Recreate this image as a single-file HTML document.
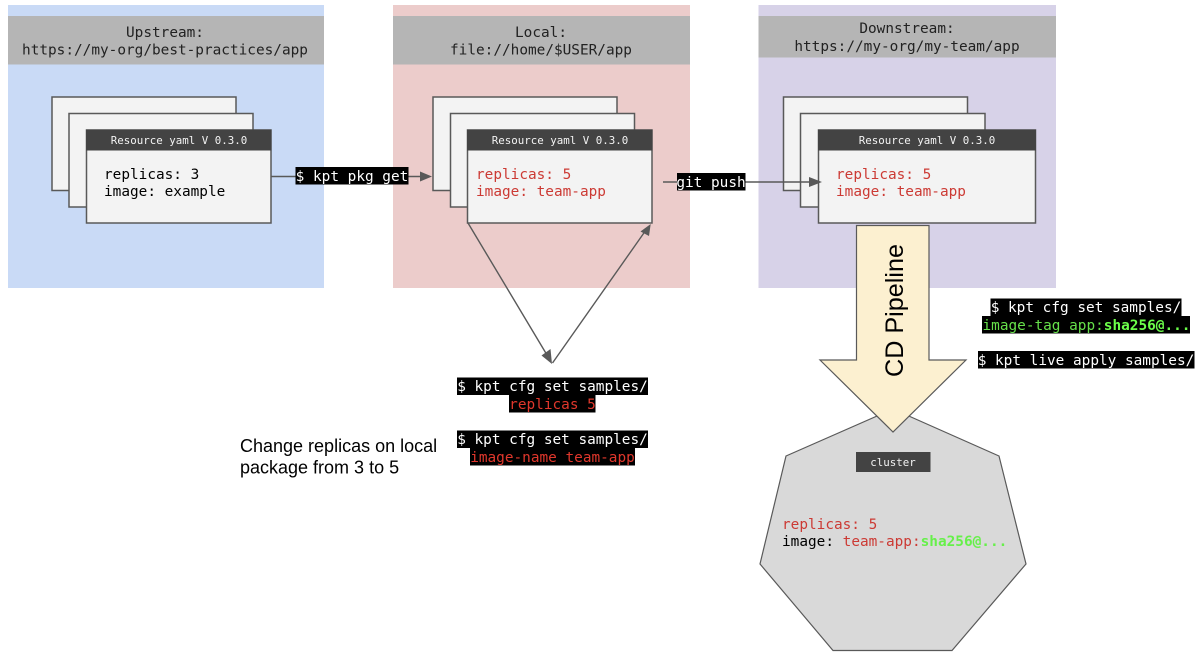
<!DOCTYPE html>
<html>
<head>
<meta charset="utf-8">
<style>
html,body{margin:0;padding:0;background:#fff;width:1200px;height:662px;overflow:hidden}
svg{display:block;filter:blur(0.3px)}
text{font-family:"DejaVu Sans Mono","Liberation Mono",monospace;font-size:14.4px;fill:#000;white-space:pre}
.t{font-size:10.8px;fill:#f3f3f3;text-anchor:middle}
.hd{fill:#222;text-anchor:middle}
.r{fill:#cc3a34}
.w{fill:#fff;text-anchor:middle}
.rr{fill:#e0372c;text-anchor:middle}
.s{font-family:"Liberation Sans",sans-serif;fill:#000}
.c{fill:#f3f3f3;stroke:#595959;stroke-width:1.5}
.l{stroke:#595959;stroke-width:1.4;fill:none}
.a{fill:#595959;stroke:none}
</style>
</head>
<body>
<svg width="1200" height="662" viewBox="0 0 1200 662" xmlns="http://www.w3.org/2000/svg">
<!-- panels -->
<rect x="8" y="5" width="316" height="283" fill="#c9daf6"/>
<rect x="393" y="5" width="297" height="283" fill="#eccccb"/>
<rect x="758.5" y="5" width="297.5" height="283" fill="#d7d2e8"/>
<rect x="8" y="16" width="316" height="48.5" fill="#b5b5b5"/>
<rect x="393" y="16" width="297" height="48.5" fill="#b5b5b5"/>
<rect x="758.5" y="16" width="297.5" height="41.5" fill="#b5b5b5"/>
<text class="hd" x="165" y="37">Upstream:</text>
<text class="hd" x="165" y="54.5">https://my-org/best-practices/app</text>
<text class="hd" x="541" y="37">Local:</text>
<text class="hd" x="541" y="54.5">file://home/$USER/app</text>
<text class="hd" x="907" y="33">Downstream:</text>
<text class="hd" x="907" y="51">https://my-org/my-team/app</text>

<!-- upstream cards -->
<rect class="c" x="52" y="97" width="184" height="93.5"/>
<rect class="c" x="69" y="113.5" width="184" height="93.5"/>
<rect class="c" x="86.5" y="130" width="184.5" height="93"/>
<rect x="86" y="129.5" width="185.5" height="21" fill="#434343"/>
<text class="t" x="179" y="144">Resource yaml V 0.3.0</text>
<text x="104" y="179">replicas: 3</text>
<text x="104" y="196">image: example</text>

<!-- local cards -->
<rect class="c" x="433" y="97" width="184" height="93.5"/>
<rect class="c" x="450.5" y="113.5" width="184" height="93.5"/>
<rect class="c" x="467.5" y="130" width="184.5" height="93"/>
<rect x="467" y="129.5" width="185.5" height="21" fill="#434343"/>
<text class="t" x="560" y="144">Resource yaml V 0.3.0</text>
<text class="r" x="476" y="179">replicas: 5</text>
<text class="r" x="476" y="196">image: team-app</text>

<!-- downstream cards -->
<rect class="c" x="783.5" y="97" width="184" height="93.5"/>
<rect class="c" x="800.5" y="113.5" width="184.5" height="93.5"/>
<rect class="c" x="818.5" y="130" width="217" height="93"/>
<rect x="818" y="129.5" width="218" height="21" fill="#434343"/>
<text class="t" x="927" y="144">Resource yaml V 0.3.0</text>
<text class="r" x="836" y="179">replicas: 5</text>
<text class="r" x="836" y="196">image: team-app</text>

<!-- connectors -->
<line class="l" x1="271" y1="176.5" x2="422" y2="176.5"/>
<polygon class="a" points="420,171.5 432,176.5 420,181.5"/>
<line class="l" x1="663" y1="182" x2="811" y2="182"/>
<polygon class="a" points="809,177 822,182 809,187"/>
<line class="l" x1="468" y1="223" x2="550" y2="360"/>
<polygon class="a" points="541.5,355.5 550.5,349 552,364"/>
<line class="l" x1="552.5" y1="363" x2="646" y2="230"/>
<polygon class="a" points="640.5,231.5 649,236 650.7,224"/>

<!-- black labels -->
<rect x="295.5" y="167" width="113" height="17.5" fill="#000"/>
<text class="w" x="352" y="181">$ kpt pkg get</text>
<rect x="677" y="173" width="68.5" height="17.5" fill="#000"/>
<text class="w" x="711" y="187">git push</text>

<rect x="457" y="377.5" width="191" height="17.5" fill="#000"/>
<text class="w" x="552.5" y="391">$ kpt cfg set samples/</text>
<rect x="509" y="395" width="86.5" height="17.5" fill="#000"/>
<text class="rr" x="552.5" y="409">replicas 5</text>
<rect x="457" y="430.5" width="191" height="17.5" fill="#000"/>
<text class="w" x="552.5" y="444">$ kpt cfg set samples/</text>
<rect x="470" y="448" width="165" height="17.5" fill="#000"/>
<text class="rr" x="552.5" y="462">image-name team-app</text>

<text class="s" x="240" y="452" style="font-size:18px">Change replicas on local</text>
<text class="s" x="240" y="473.5" style="font-size:18px">package from 3 to 5</text>

<!-- heptagon -->
<polygon points="893,409 999,456 1026,564 952,650.5 833,650.5 760,564 786,456" fill="#d9d9d9" stroke="#595959" stroke-width="1.2"/>
<!-- CD arrow -->
<polygon points="856.5,225.5 929,225.5 929,360 966,360 893,432 820,360 856.5,360" fill="#fcf0d0" stroke="#595959" stroke-width="1.2"/>
<text class="s" transform="translate(903,377) rotate(-90)" style="font-size:25.2px">CD Pipeline</text>

<!-- right labels -->
<rect x="990.5" y="298.5" width="191" height="17.5" fill="#000"/>
<text class="w" x="1086" y="312">$ kpt cfg set samples/</text>
<rect x="982" y="316" width="208" height="17.5" fill="#000"/>
<text x="982.5" y="330" style="fill:#66e04a">image-tag app:<tspan style="fill:#6cff4a;font-weight:bold">sha256@...</tspan></text>
<rect x="978" y="351" width="216.5" height="17.5" fill="#000"/>
<text class="w" x="1086" y="365">$ kpt live apply samples/</text>

<!-- cluster -->
<rect x="856" y="452" width="74.5" height="20" fill="#434343"/>
<text class="t" x="893" y="466">cluster</text>
<text class="r" x="782" y="529">replicas: 5</text>
<text x="782" y="546">image: <tspan style="fill:#cc3a34">team-app:</tspan><tspan style="fill:#66f04a;font-weight:bold">sha256@...</tspan></text>
</svg>
</body>
</html>
